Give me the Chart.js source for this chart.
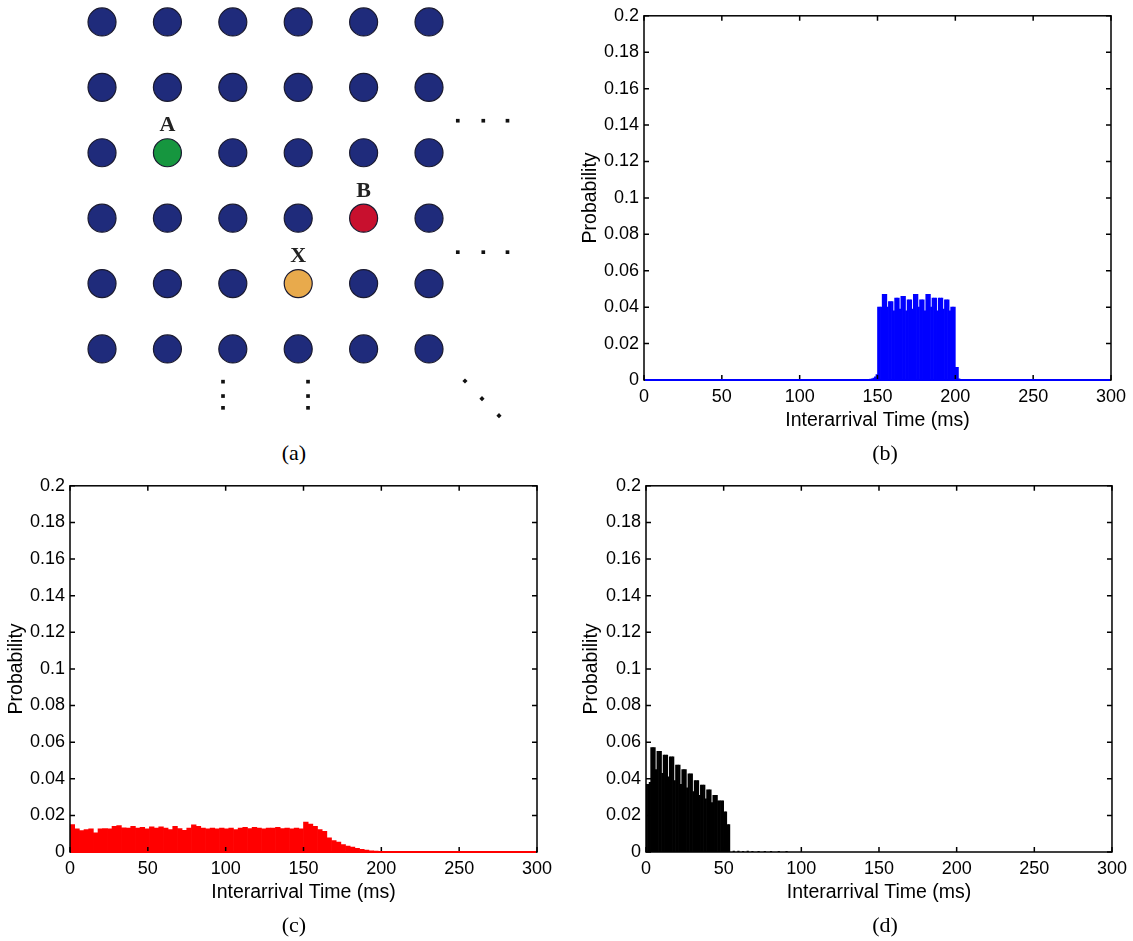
<!DOCTYPE html>
<html>
<head>
<meta charset="utf-8">
<script src="https://cdn.jsdelivr.net/npm/chart.js@4.4.0/dist/chart.umd.min.js"></script>
<style>
body { margin: 0; background: #fff; }
#page { position: relative; width: 1133px; height: 941px; overflow: hidden; background: #fff; }
canvas, .cap { position: absolute; }
.cap { font: 22px "Liberation Serif", "DejaVu Serif", serif; width: 60px; margin-left: -30px; text-align: center; line-height: 24px; }
</style>
</head>
<body>
<div id="page">
  <canvas id="gridChart" width="560" height="440" style="left:0;top:0"></canvas>
  <canvas id="chartB" width="573" height="470" style="left:560px;top:0"></canvas>
  <canvas id="chartC" width="560" height="471" style="left:0;top:470px"></canvas>
  <canvas id="chartD" width="573" height="471" style="left:560px;top:470px"></canvas>
  <div class="cap" style="left:294px;top:441px">(a)</div>
  <div class="cap" style="left:885px;top:441px">(b)</div>
  <div class="cap" style="left:294px;top:913px">(c)</div>
  <div class="cap" style="left:885px;top:913px">(d)</div>
</div>
<script>
// (a) node grid
const gridCols = [0, 1, 2, 3, 4, 5];
const gridRows = [0, 1, 2, 3, 4, 5];
const nodeNames = ['A', 'B', 'X'];
const nodeCols = [1, 4, 3];
const nodeRows = [2, 3, 4];
const nodeColors = ['#16963f', '#c8102e', '#e8aa4c'];
const hDotCols = [5.44, 5.83, 6.2];
const hDotRows = [1.51, 3.52];
const vDotCols = [1.85, 3.15];
const vDotRows = [5.5, 5.72, 5.9];
const diagCols = [5.55, 5.81, 6.07];
const diagRows = [5.49, 5.76, 6.02];

// (b) interarrival A -> X, 1 ms bins (bin centres)
const bTimes = [140.5, 141.5, 142.5, 143.5, 144.5, 145.5, 146.5, 147.5, 148.5, 149.5,
  150.5, 151.5, 152.5, 153.5, 154.5, 155.5, 156.5, 157.5, 158.5, 159.5,
  160.5, 161.5, 162.5, 163.5, 164.5, 165.5, 166.5, 167.5, 168.5, 169.5,
  170.5, 171.5, 172.5, 173.5, 174.5, 175.5, 176.5, 177.5, 178.5, 179.5,
  180.5, 181.5, 182.5, 183.5, 184.5, 185.5, 186.5, 187.5, 188.5, 189.5,
  190.5, 191.5, 192.5, 193.5, 194.5, 195.5, 196.5, 197.5, 198.5, 199.5,
  200.5, 201.5, 202.5, 203.5, 204.5, 205.5, 206.5, 207.5, 208.5, 209.5];
const bProb = [0.0003, 0.0003, 0.0002, 0.0003, 0.0004, 0.0005, 0.0007, 0.001, 0.0018, 0.003,
  0.040, 0.040, 0.040, 0.047, 0.047, 0.047, 0.040, 0.043, 0.043, 0.043,
  0.038, 0.045, 0.045, 0.045, 0.039, 0.046, 0.046, 0.046, 0.038, 0.044,
  0.044, 0.044, 0.039, 0.047, 0.047, 0.047, 0.040, 0.044, 0.044, 0.044,
  0.038, 0.047, 0.047, 0.047, 0.040, 0.045, 0.045, 0.045, 0.038, 0.045,
  0.045, 0.045, 0.039, 0.044, 0.044, 0.044, 0.038, 0.040, 0.040, 0.040,
  0.007, 0.007, 0.0006, 0.0004, 0.0003, 0.0003, 0.0002, 0.0003, 0.0002, 0.0003];

// (c) interarrival B -> X, 3 ms bins
const cTimes = [1.5, 4.5, 7.5, 10.5, 13.5, 16.5, 19.5, 22.5, 25.5, 28.5,
  31.5, 34.5, 37.5, 40.5, 43.5, 46.5, 49.5, 52.5, 55.5, 58.5,
  61.5, 64.5, 67.5, 70.5, 73.5, 76.5, 79.5, 82.5, 85.5, 88.5,
  91.5, 94.5, 97.5, 100.5, 103.5, 106.5, 109.5, 112.5, 115.5, 118.5,
  121.5, 124.5, 127.5, 130.5, 133.5, 136.5, 139.5, 142.5, 145.5, 148.5,
  151.5, 154.5, 157.5, 160.5, 163.5, 166.5, 169.5, 172.5, 175.5, 178.5,
  181.5, 184.5, 187.5, 190.5, 193.5, 196.5, 199.5, 202.5, 205.5, 208.5,
  211.5, 214.5];
const cProb = [0.015, 0.0126, 0.0117, 0.0122, 0.0126, 0.0105, 0.0126, 0.0128, 0.0126, 0.014,
  0.0144, 0.0132, 0.0131, 0.014, 0.013, 0.0135, 0.0126, 0.0137, 0.013, 0.0137,
  0.013, 0.0122, 0.014, 0.0128, 0.0119, 0.013, 0.0148, 0.014, 0.013, 0.0126,
  0.013, 0.0126, 0.013, 0.0126, 0.013, 0.0122, 0.013, 0.0135, 0.0128, 0.0135,
  0.013, 0.0126, 0.013, 0.013, 0.0135, 0.0128, 0.013, 0.0126, 0.013, 0.0126,
  0.0164, 0.0153, 0.014, 0.0122, 0.0113, 0.0077, 0.0063, 0.0054, 0.0041, 0.0032,
  0.0027, 0.002, 0.0014, 0.001, 0.0007, 0.0005, 0.0004, 0.0003, 0.0003, 0.0002,
  0.0002, 0.0002];

// (d) interarrival A -> B, 1 ms bins
const dTimes = [0.5, 1.5, 2.5, 3.5, 4.5, 5.5, 6.5, 7.5, 8.5, 9.5,
  10.5, 11.5, 12.5, 13.5, 14.5, 15.5, 16.5, 17.5, 18.5, 19.5,
  20.5, 21.5, 22.5, 23.5, 24.5, 25.5, 26.5, 27.5, 28.5, 29.5,
  30.5, 31.5, 32.5, 33.5, 34.5, 35.5, 36.5, 37.5, 38.5, 39.5,
  40.5, 41.5, 42.5, 43.5, 44.5, 45.5, 46.5, 47.5, 48.5, 49.5,
  50.5, 51.5, 52.5, 53.5, 56.5, 59.5, 62.5, 65.5, 68.5, 72.5,
  76.5, 80.5, 85.5, 90.5];
const dProb = [0.037, 0.037, 0.038, 0.057, 0.057, 0.057, 0.045, 0.055, 0.055, 0.055,
  0.043, 0.053, 0.053, 0.053, 0.041, 0.052, 0.052, 0.052, 0.039, 0.0475,
  0.0475, 0.0475, 0.037, 0.045, 0.045, 0.045, 0.035, 0.0427, 0.0427, 0.0427,
  0.033, 0.039, 0.039, 0.039, 0.031, 0.0365, 0.0365, 0.0365, 0.029, 0.034,
  0.034, 0.034, 0.027, 0.031, 0.031, 0.031, 0.028, 0.028, 0.028, 0.028,
  0.022, 0.022, 0.015, 0.015, 0.0005, 0.0005, 0.0004, 0.0005, 0.0004, 0.0004,
  0.0004, 0.0003, 0.0003, 0.0003];

const yTicks = [0, 0.02, 0.04, 0.06, 0.08, 0.1, 0.12, 0.14, 0.16, 0.18, 0.2];
const xTicks = [0, 50, 100, 150, 200, 250, 300];

Chart.defaults.font.family = '"Liberation Sans", Arial, sans-serif';
Chart.defaults.color = '#000';

// MATLAB style box with inward ticks
const boxPlugin = {
  id: 'box',
  afterDatasetsDraw(chart, args, opts) {
    const { ctx, chartArea: a, scales: { x, y } } = chart;
    ctx.save();
    ctx.strokeStyle = '#000';
    ctx.lineWidth = 1.5;
    ctx.strokeRect(a.left, a.top, a.right - a.left, a.bottom - a.top);
    ctx.beginPath();
    xTicks.forEach(v => {
      const px = x.getPixelForValue(v);
      ctx.moveTo(px, a.bottom); ctx.lineTo(px, a.bottom - 5);
      ctx.moveTo(px, a.top); ctx.lineTo(px, a.top + 5);
    });
    yTicks.forEach(v => {
      const py = y.getPixelForValue(v);
      ctx.moveTo(a.left, py); ctx.lineTo(a.left + 5, py);
      ctx.moveTo(a.right, py); ctx.lineTo(a.right - 5, py);
    });
    ctx.stroke();
    if (opts.baseColor) {
      ctx.strokeStyle = opts.baseColor;
      ctx.lineWidth = 2;
      ctx.beginPath();
      ctx.moveTo(a.left + 1, a.bottom);
      ctx.lineTo(a.right - 1, a.bottom);
      ctx.stroke();
    }
    ctx.restore();
  }
};

function histChart(id, times, probs, color, baseColor, pad, yWidth, yTitlePad) {
  return new Chart(document.getElementById(id), {
    type: 'bar',
    data: {
      datasets: [{
        data: times.map((t, i) => ({ x: t, y: probs[i] })),
        backgroundColor: color,
        borderWidth: 0,
        barPercentage: 1,
        categoryPercentage: 1
      }]
    },
    options: {
      responsive: false,
      animation: false,
      layout: { padding: pad },
      plugins: {
        legend: { display: false },
        tooltip: { enabled: false },
        box: { baseColor: baseColor }
      },
      scales: {
        x: {
          type: 'linear',
          min: 0,
          max: 300,
          offset: false,
          grid: { display: false, drawTicks: false },
          border: { display: false },
          afterBuildTicks: s => { s.ticks = xTicks.map(v => ({ value: v })); },
          afterFit: s => { s.height = 60; },
          ticks: { padding: 6, maxRotation: 0, autoSkip: false, font: { size: 18 } },
          title: { display: true, text: 'Interarrival Time (ms)', font: { size: 19.5 }, padding: { top: 0, bottom: 8 } }
        },
        y: {
          min: 0,
          max: 0.2,
          grid: { display: false, drawTicks: false },
          border: { display: false },
          afterBuildTicks: s => { s.ticks = yTicks.map(v => ({ value: v })); },
          afterFit: s => { s.width = yWidth; },
          ticks: {
            padding: 5,
            font: { size: 18 },
            callback: v => String(+v.toFixed(2))
          },
          title: { display: true, text: 'Probability', font: { size: 19.5 }, padding: { top: yTitlePad, bottom: 0 } }
        }
      }
    },
    plugins: [boxPlugin]
  });
}

histChart('chartB', bTimes, bProb, '#0000ff', '#0000ff', { top: 13, right: 22, bottom: 30, left: 0 }, 84, 19);
histChart('chartC', cTimes, cProb, '#ff0000', '#ff0000', { top: 14, right: 23, bottom: 29, left: 0 }, 70, 5);
histChart('chartD', dTimes, dProb, '#000000', null, { top: 14, right: 20, bottom: 29, left: 0 }, 86, 20);

// node grid diagram
const blueNodes = [];
gridRows.forEach(r => gridCols.forEach(c => {
  const special = nodeCols.some((nc, i) => nc === c && nodeRows[i] === r);
  if (!special) blueNodes.push({ x: c, y: r });
}));
const hDots = [];
hDotRows.forEach(r => hDotCols.forEach(c => hDots.push({ x: c, y: r })));
const vDots = [];
vDotCols.forEach(c => vDotRows.forEach(r => vDots.push({ x: c, y: r })));
const diagDots = diagCols.map((c, i) => ({ x: c, y: diagRows[i] }));

const nodeLabelPlugin = {
  id: 'nodeLabels',
  afterDatasetsDraw(chart) {
    const { ctx, scales: { x, y } } = chart;
    ctx.save();
    ctx.font = 'bold 22px "Liberation Serif", "DejaVu Serif", serif';
    ctx.fillStyle = '#222';
    ctx.textAlign = 'center';
    ctx.textBaseline = 'middle';
    nodeNames.forEach((n, i) => {
      ctx.fillText(n, x.getPixelForValue(nodeCols[i]), y.getPixelForValue(nodeRows[i]) - 27);
    });
    ctx.restore();
  }
};

new Chart(document.getElementById('gridChart'), {
  type: 'scatter',
  data: {
    datasets: [
      { data: blueNodes, pointRadius: 14, pointBackgroundColor: '#1f2b7b', pointBorderColor: '#1a1a30', pointBorderWidth: 1.2 },
      { data: nodeCols.map((c, i) => ({ x: c, y: nodeRows[i] })), pointRadius: 14, pointBackgroundColor: nodeColors, pointBorderColor: '#1a1a30', pointBorderWidth: 1.2 },
      { data: hDots, pointStyle: 'rect', pointRadius: 2.6, pointBackgroundColor: '#111', pointBorderWidth: 0 },
      { data: vDots, pointStyle: 'rect', pointRadius: 2.6, pointBackgroundColor: '#111', pointBorderWidth: 0 },
      { data: diagDots, pointStyle: 'rectRot', pointRadius: 2.6, pointBackgroundColor: '#111', pointBorderWidth: 0 }
    ]
  },
  options: {
    responsive: false,
    animation: false,
    clip: false,
    layout: { padding: 0, autoPadding: false },
    plugins: { legend: { display: false }, tooltip: { enabled: false } },
    scales: {
      x: { display: false, min: -1.56, max: 7.003 },
      y: { display: false, reverse: true, min: -0.336, max: 6.392 }
    }
  },
  plugins: [nodeLabelPlugin]
});
</script>
</body>
</html>
